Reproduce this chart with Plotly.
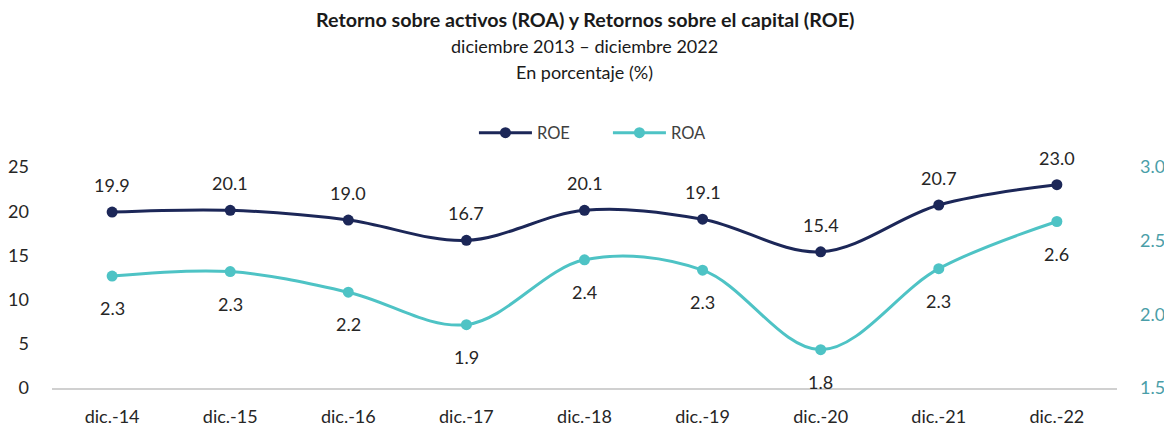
import plotly.graph_objects as go

categories = ["dic.-14", "dic.-15", "dic.-16", "dic.-17", "dic.-18", "dic.-19", "dic.-20", "dic.-21", "dic.-22"]
roe = [19.9, 20.1, 19.0, 16.7, 20.1, 19.1, 15.4, 20.7, 23.0]
roa = [2.26, 2.29, 2.15, 1.93, 2.37, 2.30, 1.76, 2.31, 2.63]
left_ticks = [0, 5, 10, 15, 20, 25]
right_ticks = [1.5, 2.0, 2.5, 3.0]

ROE_COLOR = "#1c2758"
ROA_COLOR = "#4ec3c5"
FONT = "Lato"
TXT = "#262626"

fig = go.Figure()
fig.add_trace(go.Scatter(
    x=categories, y=roe, name="ROE", mode="lines+markers",
    line=dict(color=ROE_COLOR, width=3, shape="spline", smoothing=1.0),
    marker=dict(size=11, color=ROE_COLOR),
    yaxis="y"))
fig.add_trace(go.Scatter(
    x=categories, y=roa, name="ROA", mode="lines+markers",
    line=dict(color=ROA_COLOR, width=3, shape="spline", smoothing=1.0),
    marker=dict(size=11, color=ROA_COLOR),
    yaxis="y2"))

for c, v in zip(categories, roe):
    fig.add_annotation(x=c, y=v, yref="y", text=f"{v:.1f}", showarrow=False,
                       yshift=27, font=dict(family=FONT, size=18, color=TXT))
for c, v in zip(categories, roa):
    fig.add_annotation(x=c, y=v, yref="y2", text=f"{round(v + 0.001, 1):.1f}", showarrow=False,
                       yshift=-32, font=dict(family=FONT, size=18, color=TXT))

# page has an 8px body margin: figure coords = screen coords - 8
title_lines = [
    ("<b>Retorno sobre activos (ROA) y Retornos sobre el capital (ROE)</b>", 20, 19.7),
    ("diciembre 2013 – diciembre 2022", 46, 18),
    ("En porcentaje (%)", 72, 18),
]
for t, py, fs in title_lines:
    fig.add_annotation(xref="paper", yref="paper", x=0.5, y=(388 - py) / 221,
                       yanchor="middle", text=t, showarrow=False,
                       font=dict(family=FONT, size=fs, color="#1a1a1a"))

fig.update_layout(
    width=1164, height=419,
    margin=dict(l=44, r=55, t=159, b=39, autoexpand=False),
    paper_bgcolor="white", plot_bgcolor="white",
    font=dict(family=FONT, size=18, color=TXT),
    showlegend=True,
    legend=dict(orientation="h", x=0.522, xanchor="center", y=(388 - 133) / 221,
                yanchor="middle", font=dict(family=FONT, size=16.5, color="#404040"),
                itemwidth=53, entrywidth=66, entrywidthmode="pixels", tracegroupgap=0),
    xaxis=dict(showgrid=False, showline=True, linecolor="#d0d0d0", linewidth=1.5,
               ticks="", ticklabelstandoff=12, tickfont=dict(size=18, color=TXT),
               zeroline=False, automargin=False),
    yaxis=dict(range=[0, 25], tickvals=left_ticks, showgrid=False, zeroline=False,
               showline=False, ticklabelstandoff=22, tickfont=dict(size=18, color=TXT),
               automargin=False),
    yaxis2=dict(range=[1.5, 3.0], tickvals=right_ticks, tickformat=".1f",
                overlaying="y", side="right", showgrid=False, zeroline=False,
                showline=False, ticklabelstandoff=22, automargin=False,
                tickfont=dict(size=18, color="#4a9ea8")),
)

fig.write_html("out.html")
